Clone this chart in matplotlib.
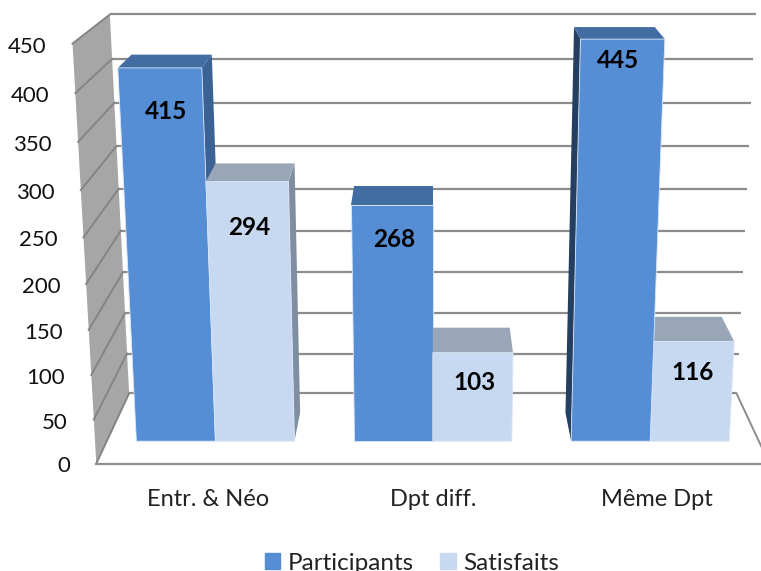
import matplotlib
matplotlib.use("Agg")
import matplotlib.pyplot as plt
from matplotlib.patches import Patch

categories = ["Entr. & Néo", "Dpt diff.", "Même Dpt"]
participants = [415, 268, 445]
satisfaits = [294, 103, 116]
y_ticks = [0, 50, 100, 150, 200, 250, 300, 350, 400, 450]

# where each label was dragged to, relative to the top edge of its bar (px)
drop_participants = [44, 34, 21]
drop_satisfaits = [46, 30, 31]
shift_participants = [6, 2, -5]
shift_satisfaits = [2, 2, -1]

plt.rcParams["font.family"] = ["Lato", "DejaVu Sans"]

Y_MAX = 450.0
GAP = 0.75
DEPTH_FRONT = 0.2965
DEPTH_BACK = 0.7035


def project(u, value, depth):
    # fake 3D box: u across, value up, depth towards the back wall
    v = value / Y_MAX
    d = 1 - 0.066 * v + 0.108 * depth
    x = 432.8 + (u - 0.5) * 673 / d
    y = (463.5 - 422.8 * v - 27.6 * depth + 2 * v * depth) / d
    return x, y


fig = plt.figure(figsize=(7.61, 5.71), dpi=100)
ax = fig.add_axes([0, 0, 1, 1])
ax.set_xlim(0, 761)
ax.set_ylim(571, 0)
ax.axis("off")

GRID = "#8c8c8c"

# left wall
wall = [project(0, 0, 0), project(0, Y_MAX, 0), project(0, Y_MAX, 1), project(0, 0, 1)]
ax.fill(*zip(*wall), color="#a6a6a6", lw=0, zorder=1)

# gridlines on back and left walls
for t in y_ticks:
    x0, y0 = project(0, t, 1)
    x1, y1 = project(1, t, 1)
    xf, yf = project(0, t, 0)
    ax.plot([x0, x1], [y0, y1], color=GRID, lw=1.6, zorder=2, solid_capstyle="butt")
    ax.plot([x0, xf], [y0, yf], color="#848484", lw=1.4, zorder=2)
    ax.text(xf - 26, yf + 3, str(t), ha="right", va="center", fontsize=16, color="#111111")

# floor edges
xa, ya = project(0, 0, 0)
xb, yb = project(1, 0, 0)
xc, yc = project(1, 0, 1)
ax.plot([xa, xb], [ya, yb], color=GRID, lw=1.6, zorder=2)
ax.plot([xc, xb], [yc, yb], color=GRID, lw=1.4, zorder=2)

n_cat = len(categories)
bar_w = (1 / n_cat) / (2 + GAP)
BLUE = dict(front="#558ed5", top="#426da3", right="#3b6294", left="#243f60")
PALE = dict(front="#c6d9f1", top="#98a6b8", right="#7f8fa1", left="#7f8fa1")

bars = []
for i in range(n_cat):
    centre = (i + 0.5) / n_cat
    bars.append((centre - bar_w, centre, participants[i], BLUE,
                 drop_participants[i], shift_participants[i]))
    bars.append((centre, centre + bar_w, satisfaits[i], PALE,
                 drop_satisfaits[i], shift_satisfaits[i]))

# paint the bars furthest from the middle first, they get overlapped by the inner ones
bars.sort(key=lambda b: -abs((b[0] + b[1]) / 2 - 0.5))

z = 3
for left, right, val, col, drop, shift in bars:
    if right < 0.5:
        side = [project(right, 0, DEPTH_FRONT), project(right, val, DEPTH_FRONT),
                project(right, val, DEPTH_BACK), project(right, 0, DEPTH_BACK)]
        ax.fill(*zip(*side), color=col["right"], lw=0, zorder=z)
    if left > 0.5:
        side = [project(left, 0, DEPTH_FRONT), project(left, val, DEPTH_FRONT),
                project(left, val, DEPTH_BACK), project(left, 0, DEPTH_BACK)]
        ax.fill(*zip(*side), color=col["left"], lw=0, zorder=z)
    top = [project(left, val, DEPTH_FRONT), project(right, val, DEPTH_FRONT),
           project(right, val, DEPTH_BACK), project(left, val, DEPTH_BACK)]
    ax.fill(*zip(*top), color=col["top"], lw=0, zorder=z)
    front = [project(left, 0, DEPTH_FRONT), project(right, 0, DEPTH_FRONT),
             project(right, val, DEPTH_FRONT), project(left, val, DEPTH_FRONT)]
    ax.fill(*zip(*front), color=col["front"], ec="#dbe6f5", lw=0.6, zorder=z)
    tx, ty = project((left + right) / 2, val, DEPTH_FRONT)
    ax.text(tx + shift, ty + drop, str(val), ha="center", va="center", fontsize=17.5,
            fontweight="bold", color="black", zorder=20)
    z += 1

for i, name in enumerate(categories):
    x, y = project((i + 0.5) / n_cat, 0, 0)
    ax.text(x, y + 36, name, ha="center", va="center", fontsize=17, color="#222222")

handles = [Patch(color=BLUE["front"], label="Participants"),
           Patch(color=PALE["front"], label="Satisfaits")]
ax.legend(handles=handles, loc="center", bbox_to_anchor=(412, 563),
          bbox_transform=ax.transData, ncols=2, frameon=False, fontsize=17.5,
          handlelength=0.62, handleheight=0.62, handletextpad=0.3, columnspacing=1.1,
          borderpad=0, labelcolor="#222222")

fig.savefig("out.png", dpi=100)
